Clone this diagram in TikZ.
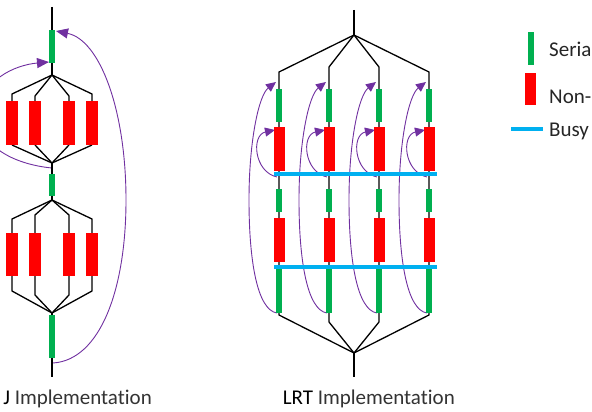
\documentclass[tikz,border=0pt]{standalone}
\usepackage{fontspec}
\setmainfont{Carlito}[RawFeature={-liga,-clig}]
\usetikzlibrary{arrows.meta}
\definecolor{sergreen}{HTML}{00B050}
\definecolor{nonred}{HTML}{FF0000}
\definecolor{busycyan}{HTML}{00B0F0}
\definecolor{arcpurple}{HTML}{7030A0}
\begin{document}
\begin{tikzpicture}[x=1pt,y=-1pt,
  blk/.style={draw=black,line width=1.3pt},
  arcl/.style={draw=arcpurple,line width=0.9pt,-{Triangle[length=12pt,width=10pt]}},
  arc/.style={draw=arcpurple,line width=0.9pt,-{Triangle[length=10pt,width=9pt]}},
  sbox/.style={fill=sergreen,draw=none},
  nbox/.style={fill=nonred,draw=none},
  busy/.style={draw=busycyan,line width=3.2pt},
  lbl/.style={font=\fontsize{21}{25}\selectfont,inner sep=0pt}]
\useasboundingbox (0,0) rectangle (592,412);

% ================= Left diagram =================
\coordinate (Ltop) at (52,7);
\coordinate (LF1) at (52,75);
\coordinate (LJ1) at (52,163);
\coordinate (LF2) at (52,200);
\coordinate (LJ2) at (52,313);
\coordinate (Lbot) at (52,377);
% purple arcs
\draw[arcl] (52,168) .. controls (20,165) and (-20,150) .. (-20,115)
  .. controls (-20,80) and (15,65) .. (49,62);
\draw[arcl] (53,363) .. controls (100,360) and (126,290) .. (126,200)
  .. controls (126,110) and (100,40) .. (56,31);
% black lines
\draw[blk] (Ltop) -- (LF1);
\draw[blk] (LF1) -- (12,94) -- (12,101);
\draw[blk] (LF1) -- (35,96) -- (35,101);
\draw[blk] (LF1) -- (69,96) -- (69,101);
\draw[blk] (LF1) -- (92,94) -- (92,101);
\foreach \c in {12,35,69,92} {\draw[blk] (\c,145) -- (LJ1);}
\draw[blk] (LJ1) -- (LF2);
\draw[blk] (LF2) -- (12,219) -- (12,233);
\draw[blk] (LF2) -- (35,215) -- (35,233);
\draw[blk] (LF2) -- (69,215) -- (69,233);
\draw[blk] (LF2) -- (92,219) -- (92,233);
\draw[blk] (12,276) -- (12,291) -- (LJ2);
\draw[blk] (35,276) -- (35,295) -- (LJ2);
\draw[blk] (69,276) -- (69,295) -- (LJ2);
\draw[blk] (92,276) -- (92,291) -- (LJ2);
\draw[blk] (LJ2) -- (Lbot);
% boxes
\fill[sbox] (49,30) rectangle (55,63);
\fill[sbox] (49,174) rectangle (55,196);
\fill[sbox] (49,315) rectangle (55,358);
\foreach \c in {12,35,69,92} {
  \fill[nbox] (\c-6,101) rectangle (\c+6,145);
  \fill[nbox] (\c-6,233) rectangle (\c+6,276);
}

% ================= Right diagram =================
\coordinate (Rtop) at (354,10);
\coordinate (RF) at (354,35);
\coordinate (RJ) at (354,353);
\coordinate (Rbot) at (354,377);
% purple arcs
\foreach \c in {279,329,379,429} {
  \draw[arc] (\c-2,313) .. controls (\c-22,310) and (\c-30,260) .. (\c-30,200)
    .. controls (\c-30,140) and (\c-20,95) .. (\c-3,82);
  \draw[arc] (\c-2,177) .. controls (\c-25,172) and (\c-28,135) .. (\c-4,130);
}
% black lines
\draw[blk] (Rtop) -- (RF);
\draw[blk] (RF) -- (279,72) -- (279,315) -- (RJ);
\draw[blk] (RF) -- (329,67) -- (329,322) -- (RJ);
\draw[blk] (RF) -- (379,67) -- (379,322) -- (RJ);
\draw[blk] (RF) -- (429,72) -- (429,315) -- (RJ);
\draw[blk] (RJ) -- (Rbot);
% boxes
\foreach \c in {279,329,379,429} {
  \fill[sbox] (\c-3,89) rectangle (\c+3,122);
  \fill[nbox] (\c-5.5,127) rectangle (\c+5.5,171);
  \fill[sbox] (\c-3,189) rectangle (\c+3,212);
  \fill[nbox] (\c-5.5,218) rectangle (\c+5.5,262);
  \fill[sbox] (\c-3,269) rectangle (\c+3,313);
}
\coordinate (B1a) at (274,174); \coordinate (B1b) at (437,174);
\coordinate (B2a) at (274,267); \coordinate (B2b) at (437,267);
\draw[busy] (B1a) -- (B1b);
\draw[busy] (B2a) -- (B2b);

% ================= Labels =================
\node[lbl,anchor=base east] (lab1) at (152,404) {J \textcolor{black!80}{Implementation}};
\node[lbl,anchor=base east] (lab2) at (455,404) {LRT \textcolor{black!80}{Implementation}};

% ================= Legend =================
\fill[sbox] (528,32) rectangle (534,65);
\fill[nbox] (525,73) rectangle (536,105);
\coordinate (La) at (511,129); \coordinate (Lb) at (543,129);
\draw[busy] (La) -- (Lb);
\node[lbl,anchor=base west,text=black!85] (leg1) at (549,57) {Seria};
\node[lbl,anchor=base west,text=black!85] (leg2) at (549,103) {Non-};
\node[lbl,anchor=base west,text=black!85] (leg3) at (549,136) {Busy};
\end{tikzpicture}
\end{document}
